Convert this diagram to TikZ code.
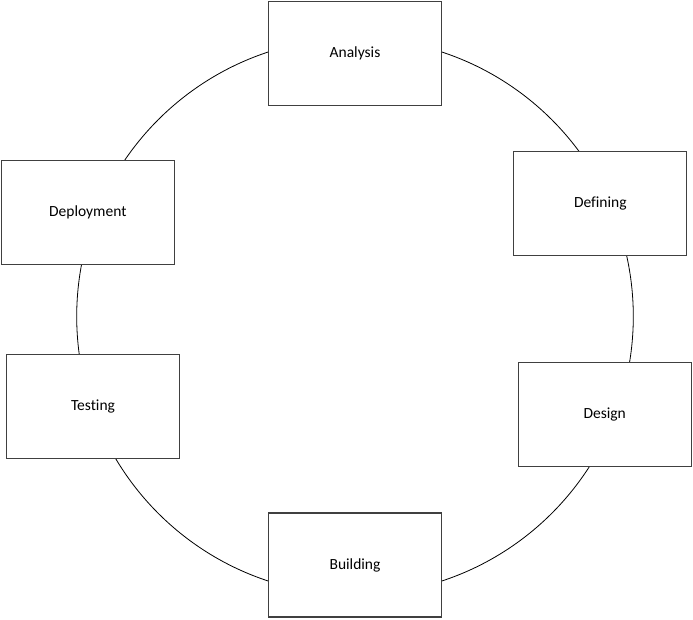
\documentclass[tikz,border=0pt]{standalone}
\usepackage{fontspec}
\setmainfont[Ligatures={NoCommon}]{Carlito}
\begin{document}
\begin{tikzpicture}[x=1pt,y=-1pt,
  stage/.style={draw=black!75, line width=1.3pt, fill=white, minimum width=173pt, minimum height=104pt, inner sep=0pt, font=\fontsize{15.5}{18}\selectfont},
  ring/.style={draw=black, line width=0.8pt, circle, minimum size=556.6pt, inner sep=0pt}]
\useasboundingbox (0,0) rectangle (693,619);
\node[ring] (cycle) at (355,316.5) {};
\node[stage] (analysis) at (355,53.3) {\raisebox{-1pt}{Analysis}};
\node[stage] (defining) at (600.3,203.7) {\raisebox{-1pt}{Defining}};
\node[stage] (design) at (604.7,414.5) {\raisebox{-1pt}{Design}};
\node[stage] (building) at (355,565) {\raisebox{-1pt}{Building}};
\node[stage] (testing) at (93,406.3) {\raisebox{-1pt}{Testing}};
\node[stage] (deployment) at (87.8,212.5) {\raisebox{-1pt}{Deployment}};
\end{tikzpicture}
\end{document}
